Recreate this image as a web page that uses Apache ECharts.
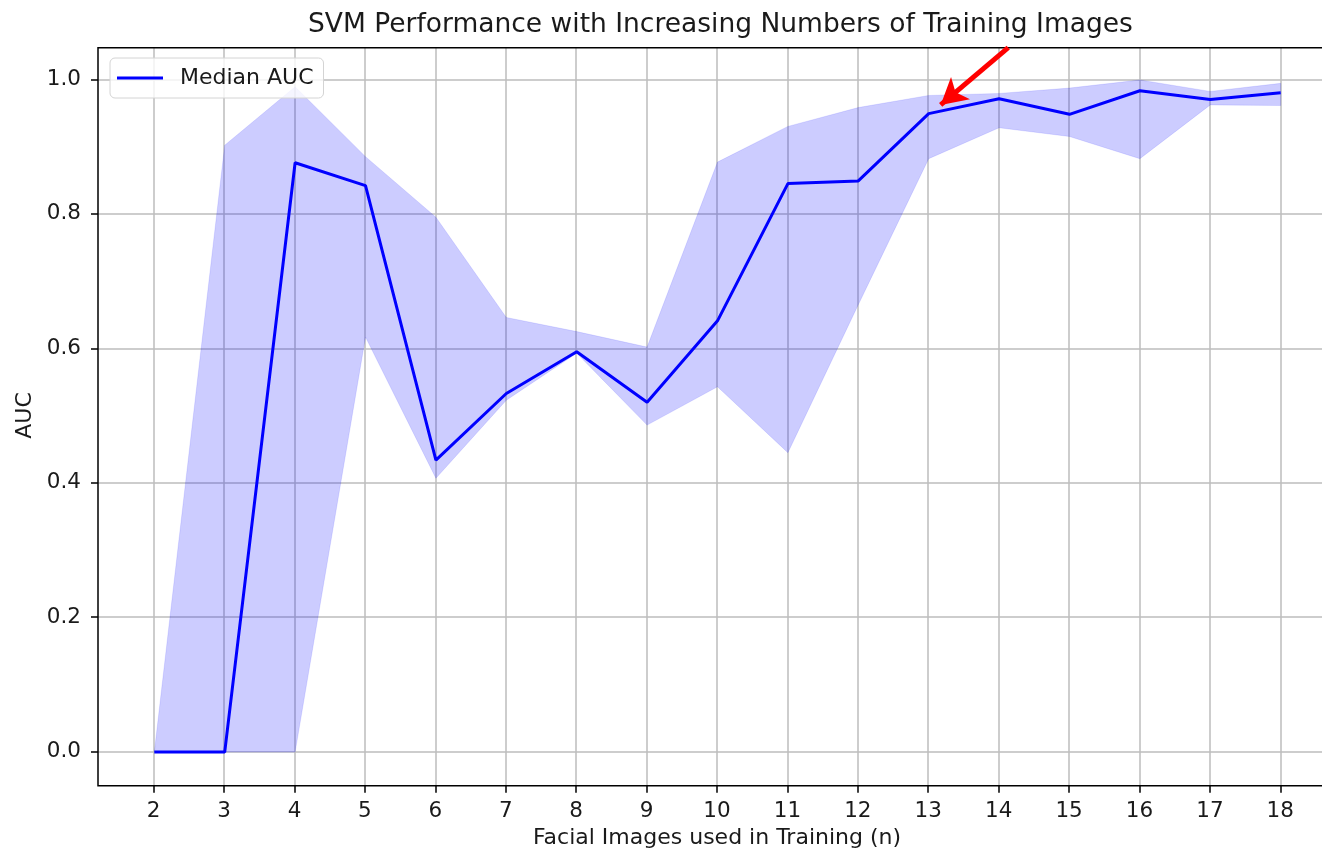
<!DOCTYPE html>
<html>
<head>
<meta charset="utf-8">
<script src="https://cdn.jsdelivr.net/npm/echarts@6/dist/echarts.min.js"></script>
<style>html,body{margin:0;padding:0;background:#fff;}#chart{width:1322px;height:855px;}</style>
</head>
<body>
<div id="chart"></div>
<script>
// ---- data ----
const nValues   = [2, 3, 4, 5, 6, 7, 8, 9, 10, 11, 12, 13, 14, 15, 16, 17, 18];
const medianAUC = [0.000, 0.000, 0.876, 0.842, 0.434, 0.533, 0.595, 0.520, 0.641, 0.845, 0.849, 0.949, 0.971, 0.948, 0.983, 0.970, 0.980];
const upperAUC  = [0.000, 0.902, 0.989, 0.885, 0.795, 0.646, 0.625, 0.602, 0.877, 0.930, 0.958, 0.976, 0.979, 0.987, 0.999, 0.982, 0.994];
const lowerAUC  = [0.000, 0.000, 0.000, 0.617, 0.407, 0.523, 0.593, 0.486, 0.543, 0.445, 0.665, 0.882, 0.928, 0.915, 0.882, 0.962, 0.961];
const yTicks    = [0.0, 0.2, 0.4, 0.6, 0.8, 1.0];
const arrowFrom = [14.13, 1.047];
const arrowTo   = [13.17, 0.962];

const FONT = 'DejaVu Sans';
const pair = (xs, ys) => xs.map((x, i) => [x, ys[i]]);
const bandData = nValues.map((x, i) => [x, lowerAUC[i], upperAUC[i]]);

function renderBand(params, api) {
  if (params.dataIndex !== 0) return null;
  const pts = [];
  for (let i = 0; i < bandData.length; i++) pts.push(api.coord([bandData[i][0], bandData[i][2]]));
  for (let i = bandData.length - 1; i >= 0; i--) pts.push(api.coord([bandData[i][0], bandData[i][1]]));
  return {
    type: 'polygon',
    shape: {points: pts},
    style: {fill: 'rgba(0,0,255,0.2)', stroke: 'rgba(0,0,255,0.1)', lineWidth: 1}
  };
}

const chart = echarts.init(document.getElementById('chart'), null, {renderer: 'canvas'});
chart.setOption({
  animation: false,
  backgroundColor: '#fff',
  title: {
    text: 'SVM Performance with Increasing Numbers of Training Images',
    left: 303, top: 7,
    textStyle: {fontFamily: FONT, fontSize: 26.5, fontWeight: 'normal', color: '#1a1a1a'}
  },
  legend: {
    left: 110, top: 58,
    data: [{name: 'Median AUC', icon: 'rect'}],
    itemWidth: 46, itemHeight: 3,
    padding: [9, 10, 9, 7],
    backgroundColor: 'rgba(255,255,255,0.8)',
    borderColor: '#d4d4d4', borderWidth: 1, borderRadius: 5,
    textStyle: {fontFamily: FONT, fontSize: 22, color: '#1a1a1a', padding: [0, 0, 0, 12]}
  },
  grid: [
    {left: 98, top: 47.7, width: 1239, height: 738, show: true, borderColor: '#000', borderWidth: 1.5,
     backgroundColor: 'transparent', z: 5, outerBoundsMode: 'none', containLabel: false},
    {left: 153.7, top: 47.7, width: 1126.6, height: 738, outerBoundsMode: 'none', containLabel: false},
    {left: 98, top: 79.3, width: 1239, height: 672.4, outerBoundsMode: 'none', containLabel: false}
  ],
  xAxis: [
    {gridIndex: 0, type: 'value', min: 1.2, max: 18.8, show: false},
    {gridIndex: 1, type: 'value', min: 2, max: 18, interval: 1,
     axisLine: {show: false},
     axisTick: {show: true, length: 7, lineStyle: {color: '#000', width: 1.5}},
     axisLabel: {fontFamily: FONT, fontSize: 21.5, color: '#1a1a1a', margin: 15},
     splitLine: {show: true, lineStyle: {color: '#bdbdbd', width: 1.5}},
     name: 'Facial Images used in Training (n)', nameLocation: 'middle', nameGap: 42,
     nameTextStyle: {fontFamily: FONT, fontSize: 22, color: '#1a1a1a'}},
    {gridIndex: 2, type: 'value', min: 0, max: 1, show: false}
  ],
  yAxis: [
    {gridIndex: 0, type: 'value', min: -0.05, max: 1.047, show: false},
    {gridIndex: 1, type: 'value', min: 0, max: 1, show: false},
    {gridIndex: 2, type: 'value', min: yTicks[0], max: yTicks[yTicks.length - 1], interval: 0.2,
     axisLine: {show: false},
     axisTick: {show: true, length: 7, lineStyle: {color: '#000', width: 1.5}},
     axisLabel: {fontFamily: FONT, fontSize: 21.5, color: '#1a1a1a', margin: 17, formatter: v => v.toFixed(1)},
     splitLine: {show: true, lineStyle: {color: '#bdbdbd', width: 1.5}},
     name: 'AUC', nameLocation: 'middle', nameGap: 62, nameRotate: 90,
     nameTextStyle: {fontFamily: FONT, fontSize: 22, color: '#1a1a1a'}}
  ],
  series: [
    {name: 'band', type: 'custom', xAxisIndex: 0, yAxisIndex: 0,
     renderItem: renderBand, data: bandData, silent: true, clip: true, z: 2,
     encode: {x: 0, y: [1, 2]}},
    {name: 'Median AUC', type: 'line', xAxisIndex: 0, yAxisIndex: 0,
     data: pair(nValues, medianAUC), showSymbol: false,
     lineStyle: {color: '#0000ff', width: 3}, itemStyle: {color: '#0000ff'}, z: 4,
     markLine: {
       silent: true, symbol: ['none', 'arrow'], symbolSize: [22, 26],
       label: {show: false},
       lineStyle: {color: '#ff0000', width: 5, type: 'solid'},
       data: [[{coord: arrowFrom}, {coord: arrowTo}]]
     }}
  ]
});
</script>
</body>
</html>
